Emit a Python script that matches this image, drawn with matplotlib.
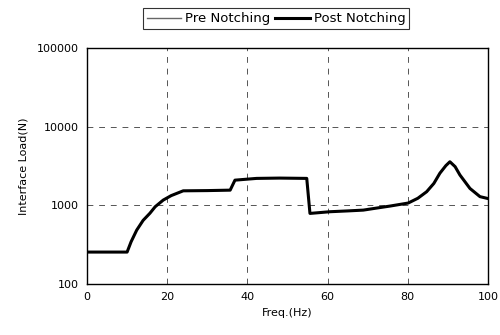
import matplotlib.pyplot as plt
from matplotlib.ticker import FixedLocator, NullLocator

# frequency (Hz) and interface load (N)
freq = [0, 10, 11, 12.4, 14, 15.7, 17, 19, 21, 22.4, 24, 30, 35.7, 36.9,
        42.3, 48, 54.8, 55.6, 60.6, 65, 68.9, 72, 75.6, 80.1, 82.5, 84.7,
        86.5, 88, 89.5, 90.5, 91.8, 93, 95.5, 98, 100]
load_pre = [255, 255, 345, 485, 645, 795, 960, 1166, 1330, 1420, 1530, 1540,
            1560, 2090, 2200, 2220, 2200, 790, 830, 850, 870, 920, 980, 1070,
            1230, 1490, 1900, 2560, 3200, 3580, 3100, 2430, 1640, 1290, 1220]
load_post = list(load_pre)

xticks = [0, 20, 40, 60, 80, 100]
yticks = [100, 1000, 10000, 100000]

fig = plt.figure(figsize=(5, 3.35), dpi=100)
ax = fig.add_axes([0.174, 0.152, 0.802, 0.705])

ax.plot(freq, load_pre, color='#666666', lw=1.0, label='Pre Notching')
ax.plot(freq, load_post, color='black', lw=2.2, label='Post Notching')

ax.set_yscale('log')
ax.set_xlim(0, 100)
ax.set_ylim(100, 100000)
ax.xaxis.set_major_locator(FixedLocator(xticks))
ax.yaxis.set_major_locator(FixedLocator(yticks))
ax.yaxis.set_minor_locator(NullLocator())
ax.set_yticklabels([str(v) for v in yticks])
ax.tick_params(labelsize=8, length=0, pad=6)

ax.grid(True, color='#555555', linestyle=(0, (6, 6)), lw=0.7)
for s in ax.spines.values():
    s.set_linewidth(1.0)

ax.set_xlabel('Freq.(Hz)', fontsize=8, labelpad=4)
ax.set_ylabel('Interface Load(N)', fontsize=8, labelpad=6)

leg = fig.legend(loc='upper center', bbox_to_anchor=(0.552, 0.995), ncol=2,
                 fontsize=9.5, frameon=True, fancybox=False, edgecolor='black',
                 handlelength=2.6, handletextpad=0.3, columnspacing=0.4,
                 borderpad=0.3)
leg.get_frame().set_linewidth(0.8)

fig.savefig('out.png', dpi=100)
